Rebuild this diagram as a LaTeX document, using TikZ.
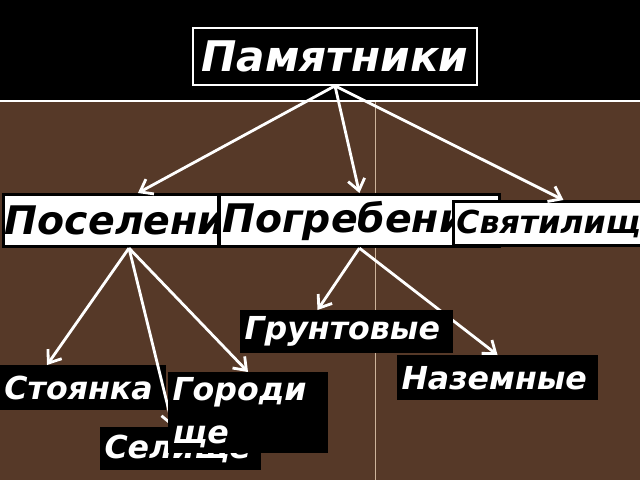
\documentclass[tikz,border=0pt]{standalone}
\usepackage{fontspec}
\setmainfont{DejaVu Sans}
\usetikzlibrary{positioning,arrows.meta}
\definecolor{marble}{RGB}{86,57,40}
\definecolor{seam}{RGB}{205,180,155}

\begin{document}
\begin{tikzpicture}[x=0.025cm, y=-0.025cm,
        topbox/.style={draw=white, line width=1.2pt, fill=black, text=white, font=\bfseries\itshape\fontsize{30}{36}\selectfont},
        kindbox/.style={draw=black, line width=2.2pt, fill=white, text=black, anchor=north west, inner sep=2pt, align=left, font=\bfseries\itshape\fontsize{28}{33}\selectfont},
        leafbox/.style={fill=black, text=white, anchor=north west, inner sep=3pt, align=left, font=\bfseries\itshape\fontsize{22.5}{30.5}\selectfont},
        link/.style={draw=white, line width=2pt, -{Straight Barb[length=8pt,width=12pt]}}]

            \clip (0,0) rectangle (640,480);
            \fill[marble] (0,0) rectangle (640,480);
            \fill[black] (0,0) rectangle (640,100);
            \draw[white, line width=1.5pt] (0,101) -- (640,101);
            \draw[seam, line width=0.4pt] (375,102) -- (375,480);

            \node[topbox, minimum width=7.1cm, minimum height=1.425cm] (root) at (335,56.5) {Памятники};

            \node[kindbox, inner xsep=1pt, text width=5.3cm, minimum height=1.3cm] (posel) at (2,193) {Поселени};
            \node[kindbox, text width=6.85cm, minimum height=1.3cm] (pogreb) at (218,193) {Погребени};
            \node[kindbox, text width=4.9cm, minimum height=1.1cm, font=\bfseries\itshape\fontsize{22.5}{26}\selectfont] (svyat) at (452,200) {Святилищ};

            \draw[link] (root.south) -- ([xshift=0.675cm]posel.north);
            \draw[link] (root.south) -- (pogreb.north);
            \draw[link] (root.south) -- ([xshift=0.225cm]svyat.north);

            \node[leafbox, text width=3.8cm, minimum height=1.075cm] (selish) at (100,427) {Селище};
            \node[leafbox, text width=3.925cm, minimum height=1.125cm] (stoyan) at (0,365) {Стоянка};
            \node[leafbox, text width=4.8cm, minimum height=1.125cm] (nazem) at (397,355) {Наземные};

            \draw[link] ([xshift=0.45cm]posel.south) -- ([xshift=-0.9cm]stoyan.north);
            \draw[link] ([xshift=0.45cm]posel.south) -- ([xshift=-0.19cm]selish.north);
            \draw[link] (pogreb.south) -- (nazem.north);

            \node[leafbox, text width=5.1cm, minimum height=1.075cm] (grunt) at (240,310) {Грунтовые};
            \node[leafbox, text width=3.775cm, minimum height=2.025cm] (gorod) at (168,372) {Городи\\ще};

            \draw[link] ([xshift=0.45cm]posel.south) -- (gorod.north);
            \draw[link] (pogreb.south) -- ([xshift=-0.725cm]grunt.north);

        \end{tikzpicture}
\end{document}
